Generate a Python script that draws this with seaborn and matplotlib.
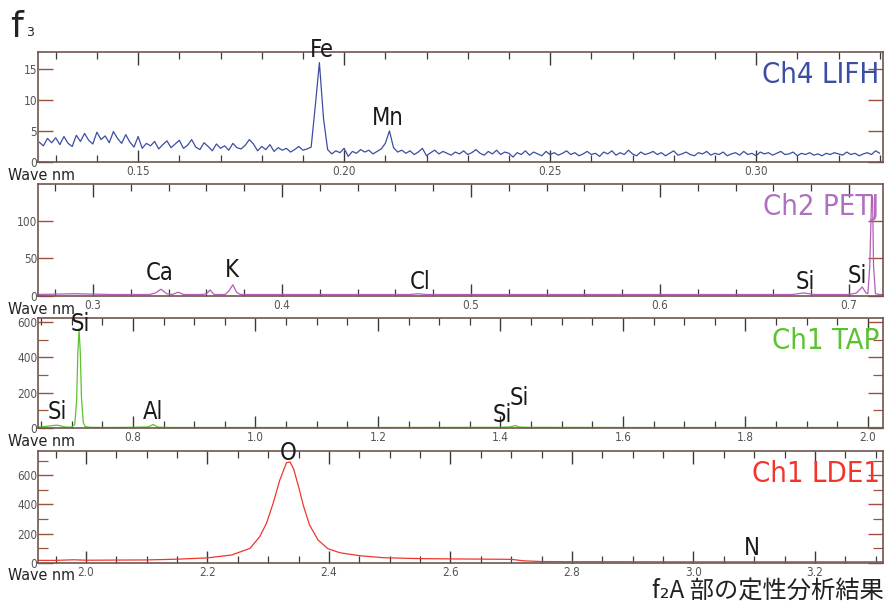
import numpy as np
import pandas as pd
import matplotlib
matplotlib.use("Agg")
import matplotlib.pyplot as plt
from matplotlib.ticker import MultipleLocator, FormatStrFormatter
from matplotlib import font_manager
from matplotlib.font_manager import FontProperties
import seaborn as sns

sns.set_style("white")
plt.rcParams['font.family'] = ['DejaVu Sans']

# ---------------- data ----------------
# Ch4 LIFH : 0.126 .. 0.330 nm, step 0.001
wave1 = np.round(np.arange(0.126, 0.3305, 0.001), 3)
counts1 = [
    3.2, 2.6, 3.8, 3.1, 3.9, 2.8, 4.1, 3.0, 2.5, 4.3,
    3.3, 4.6, 3.5, 2.9, 4.8, 3.6, 4.2, 3.1, 4.9, 3.8,
    3.0, 4.4, 3.2, 2.4, 4.1, 2.2, 3.0, 2.6, 3.3, 2.1,
    2.8, 3.4, 2.3, 2.9, 3.5, 2.2, 2.7, 3.6, 2.4, 2.0,
    3.1, 2.5, 1.8, 2.9, 2.2, 2.6, 1.9, 3.0, 2.3, 2.1,
    2.7, 3.6, 2.9, 1.8, 2.5, 2.0, 2.8, 1.7, 2.3, 1.9,
    2.2, 1.6, 2.0, 2.5, 1.9, 2.1, 2.4, 9.0, 16.0, 7.0,
    2.0, 1.3, 1.8, 1.5, 2.2, 0.9, 1.7, 1.4, 2.0, 1.6,
    1.9, 1.3, 1.7, 2.1, 3.0, 5.0, 2.3, 1.6, 1.9, 1.4,
    1.8, 1.2, 1.6, 2.2, 1.0, 1.5, 1.9, 1.3, 1.7, 1.4,
    1.1, 1.6, 1.3, 1.8, 1.2, 1.5, 2.0, 1.4, 1.1, 1.7,
    1.3, 1.9, 1.2, 1.6, 1.4, 0.8, 1.5, 1.2, 1.8, 1.1,
    1.6, 1.3, 1.0, 1.7, 1.2, 1.5, 1.1, 1.4, 1.8, 1.2,
    1.5, 1.0, 1.3, 1.7, 1.2, 1.4, 0.9, 1.6, 1.3, 1.8,
    1.1, 1.5, 1.2, 1.9, 1.3, 1.0, 1.6, 1.2, 1.4, 1.7,
    1.2, 1.5, 1.0, 1.4, 1.8, 1.1, 1.3, 1.6, 1.2, 1.0,
    1.5, 1.3, 1.7, 1.1, 1.4, 1.2, 1.6, 1.0, 1.3, 1.5,
    1.1, 1.7, 1.2, 1.4, 1.0, 1.6, 1.3, 1.5, 1.1, 1.4,
    1.7, 1.2, 1.3, 1.6, 1.0, 1.4, 1.2, 1.5, 1.1, 1.3,
    1.0, 1.4, 1.2, 1.5, 1.3, 1.1, 1.6, 1.2, 1.4, 1.0,
    1.3, 1.5, 1.2, 1.8, 1.4,
]
wave1 = wave1[:len(counts1)]

# Ch2 PETJ
wave2 = [0.271, 0.290, 0.310, 0.330, 0.333, 0.336, 0.339, 0.342, 0.345, 0.348,
         0.358, 0.360, 0.362, 0.364, 0.370, 0.372, 0.374, 0.376, 0.378, 0.400,
         0.450, 0.468, 0.472, 0.476, 0.500, 0.600, 0.670, 0.676, 0.682, 0.700,
         0.704, 0.707, 0.709, 0.710, 0.711, 0.712, 0.7125, 0.713, 0.714, 0.716, 0.718]
counts2 = [2, 3, 2, 2, 4, 9, 3, 2, 5, 2,
           2, 3, 8, 2, 2, 7, 15, 5, 2, 2,
           2, 2, 3, 2, 2, 2, 2, 4, 2, 2,
           4, 12, 4, 3, 40, 135, 130, 40, 3, 2, 2]

# Ch1 TAP
wave3 = [0.645, 0.660, 0.670, 0.676, 0.682, 0.690, 0.700, 0.705, 0.708, 0.710,
         0.712, 0.714, 0.716, 0.719, 0.722, 0.730, 0.760, 0.800, 0.825, 0.833,
         0.841, 0.860, 1.000, 1.200, 1.400, 1.415, 1.425, 1.430, 1.440, 1.600,
         1.800, 2.000, 2.0245]
counts3 = [5, 10, 14, 16, 12, 5, 5, 20, 150, 420,
           560, 430, 170, 30, 8, 4, 3, 4, 6, 20,
           5, 3, 3, 3, 4, 6, 14, 6, 4, 3,
           3, 3, 3]

# Ch1 LDE1
wave4 = [1.921, 1.950, 1.980, 2.000, 2.050, 2.100, 2.150, 2.200, 2.240, 2.270,
         2.286, 2.297, 2.308, 2.319, 2.330, 2.336, 2.342, 2.350, 2.358, 2.368,
         2.382, 2.398, 2.418, 2.450, 2.490, 2.550, 2.600, 2.700, 2.720, 2.750,
         2.800, 3.000, 3.200, 3.312]
counts4 = [18, 18, 22, 19, 20, 21, 26, 35, 55, 100,
           180, 270, 407, 566, 685, 690, 640, 520, 390, 260,
           157, 98, 70, 50, 36, 30, 28, 25, 15, 10,
           9, 8, 8, 8]

channels = ["Ch4 LIFH", "Ch2 PETJ", "Ch1 TAP", "Ch1 LDE1"]
colors = ["#3b4ea3", "#b55cb8", "#5cc232", "#f2352b"]
label_colors = ["#3b4ea3", "#b070c0", "#5cc232", "#f2352b"]

labels1 = [("Fe", 0.1947, 18.0), ("Mn", 0.2107, 7.1)]
labels2 = [("Ca", 0.3354, 31), ("K", 0.3735, 35), ("Cl", 0.473, 18),
           ("Si", 0.6767, 19), ("Si", 0.7042, 27)]
labels3 = [("Si", 0.7135, 589), ("Si", 0.676, 89), ("Al", 0.8327, 89),
           ("Si", 1.4024, 72), ("Si", 1.430, 172)]
labels4 = [("O", 2.3325, 751), ("N", 3.096, 102)]

xlims = [(0.1257, 0.3308), (0.2709, 0.718), (0.645, 2.0245), (1.921, 3.312)]
ylims = [(0, 17.7), (0, 149), (0, 622), (0, 765)]
xmajor = [0.05, 0.1, 0.2, 0.2]
xminor = [0.01, 0.02, 0.05, 0.05]
ymajor = [5, 50, 200, 200]
yminor = [None, None, 100, 100]
xfmt = ["%.2f", "%.1f", "%.1f", "%.1f"]

# ---------------- fonts ----------------
cond_file = None
for f in font_manager.fontManager.ttflist:
    fn = f.fname.replace("\\", "/").split("/")[-1]
    if fn == "DejaVuSansCondensed.ttf":
        cond_file = f.fname
        break
if cond_file is None:
    import glob
    hits = glob.glob("/usr/share/fonts/**/DejaVuSansCondensed.ttf", recursive=True)
    if hits:
        cond_file = hits[0]


def cfont(size):
    if cond_file:
        return FontProperties(fname=cond_file, size=size)
    return FontProperties(family="DejaVu Sans", size=size * 0.9)


# ---------------- figure ----------------
W, H = 886, 607
fig = plt.figure(figsize=(W / 100, H / 100), dpi=100)
fig.patch.set_facecolor("white")

boxes = [(52, 162), (184, 296), (318, 428), (451, 563)]
left_px, right_px = 38, 883

series = [(wave1, counts1), (wave2, counts2), (wave3, counts3), (wave4, counts4)]
all_labels = [labels1, labels2, labels3, labels4]

spine_col = "#6e5550"
ytick_col = "#a0503c"
xtick_col = "#3a3a3a"

for i, ((top, bot), (wx, cy)) in enumerate(zip(boxes, series)):
    ax = fig.add_axes([left_px / W, 1 - bot / H, (right_px - left_px) / W, (bot - top) / H])
    df = pd.DataFrame({"wave": wx, "counts": cy})
    sns.lineplot(data=df, x="wave", y="counts", ax=ax, color=colors[i],
                 linewidth=0.9, estimator=None, sort=True)
    ax.set_xlim(*xlims[i])
    ax.set_ylim(*ylims[i])
    ax.set_xlabel("")
    ax.set_ylabel("")
    for s in ax.spines.values():
        s.set_color(spine_col)
        s.set_linewidth(1.2)
    ax.xaxis.set_major_locator(MultipleLocator(xmajor[i]))
    ax.xaxis.set_minor_locator(MultipleLocator(xminor[i]))
    ax.xaxis.set_major_formatter(FormatStrFormatter(xfmt[i]))
    ax.yaxis.set_major_locator(MultipleLocator(ymajor[i]))
    if yminor[i]:
        ax.yaxis.set_minor_locator(MultipleLocator(yminor[i]))
    ax.tick_params(axis="x", which="major", direction="in", top=True, bottom=True,
                   length=9, width=1.0, color=xtick_col, labelsize=8.5,
                   labelcolor="#555555", pad=2.5)
    ax.tick_params(axis="x", which="minor", direction="in", top=True, bottom=True,
                   length=5, width=0.9, color=xtick_col)
    ax.tick_params(axis="y", which="major", direction="in", left=True, right=True,
                   length=11, width=1.0, color=ytick_col, labelsize=8.5,
                   labelcolor="#555555", pad=0.5)
    ax.tick_params(axis="y", which="minor", direction="in", left=True, right=True,
                   length=7, width=0.9, color=ytick_col)
    for t in ax.get_xticklabels() + ax.get_yticklabels():
        t.set_fontproperties(cfont(8.5))

    ax.text(0.996, 0.92, channels[i], transform=ax.transAxes, ha="right", va="top",
            fontproperties=cfont(21), color=label_colors[i])
    for name, lx, ly in all_labels[i]:
        ax.text(lx, ly, name, ha="center", va="center", fontproperties=cfont(17),
                color="#1a1a1a", clip_on=False)
    # "Wave nm" label below left corner
    fig.text(8 / W, 1 - (bot + 13) / H, "Wave nm", ha="left", va="center",
             fontproperties=cfont(11.5), color="#222222")

# title
fig.text(10 / W, 1 - 27 / H, "f", ha="left", va="center", fontsize=26, color="#222222")
fig.text(26 / W, 1 - 32 / H, "3", ha="left", va="center", fontsize=9, color="#222222")

# caption
fig.text(884 / W, 1 - 592 / H, "f\u2082A 部の定性分析結果", ha="right", va="center",
         fontsize=17.5, color="#222222",
         family=["Noto Sans CJK JP", "DejaVu Sans"])

fig.savefig("out.png", dpi=100, facecolor="white")
